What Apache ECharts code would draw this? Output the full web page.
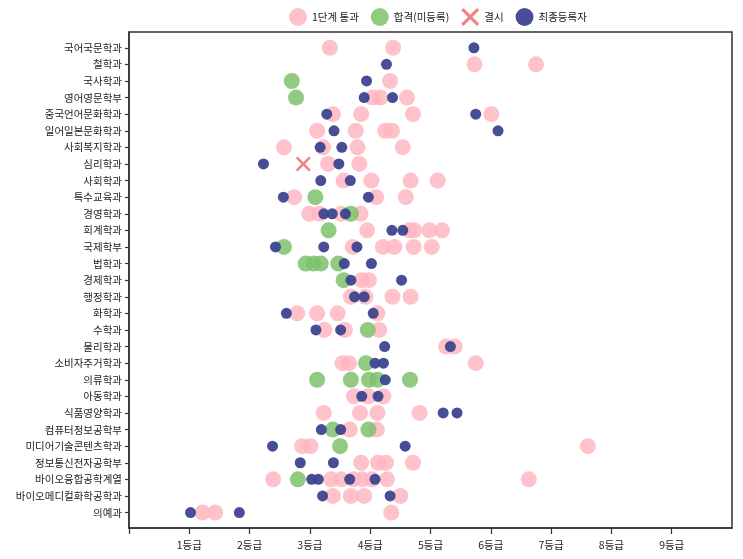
<!DOCTYPE html>
<html>
<head>
<meta charset="utf-8">
<script src="https://cdn.jsdelivr.net/npm/echarts@6/dist/echarts.min.js"></script>
<style>
html,body{margin:0;padding:0;background:#fff;}
#chart{width:743px;height:559px;}
</style>
</head>
<body>
<div id="chart"></div>
<script>
const categories = [
  '국어국문학과','철학과','국사학과','영어영문학부','중국언어문화학과','일어일본문화학과',
  '사회복지학과','심리학과','사회학과','특수교육과','경영학과','회계학과','국제학부','법학과',
  '경제학과','행정학과','화학과','수학과','물리학과','소비자주거학과','의류학과','아동학과',
  '식품영양학과','컴퓨터정보공학부','미디어기술콘텐츠학과','정보통신전자공학부',
  '바이오융합공학계열','바이오메디컬화학공학과','의예과'
];
const gradeTicks = [0,1,2,3,4,5,6,7,8,9];
const gradeLabels = ['', '1등급','2등급','3등급','4등급','5등급','6등급','7등급','8등급','9등급'];

// 1단계 통과
const stage1Pass = [
  [3.33, 4.38],
  [5.73, 6.75],
  [4.33],
  [4.04, 4.17, 4.61],
  [3.38, 3.85, 4.71, 6.01],
  [3.12, 3.76, 4.25, 4.36],
  [2.57, 3.22, 3.79, 4.54],
  [3.30, 3.82],
  [3.56, 4.02, 4.67, 5.12],
  [2.74, 4.10, 4.59],
  [2.99, 3.16, 3.52, 3.84],
  [3.95, 4.65, 4.73, 4.98, 5.19],
  [3.71, 4.21, 4.40, 4.72, 5.02],
  [],
  [3.86, 3.98],
  [3.68, 3.92, 4.37, 4.67],
  [2.79, 3.12, 3.46, 4.12],
  [3.24, 3.58, 4.15],
  [5.26, 5.40],
  [3.54, 3.65, 5.75],
  [],
  [3.73, 3.97, 4.22],
  [3.23, 3.83, 4.12, 4.82],
  [3.66, 4.11],
  [2.87, 3.01, 7.61],
  [3.85, 4.13, 4.26, 4.71],
  [2.39, 3.35, 3.52, 3.72, 3.87, 4.03, 4.28, 6.63],
  [3.38, 3.68, 3.90, 4.50],
  [1.22, 1.43, 4.35]
];
// 합격(미등록)
const admittedNotEnrolled = [
  [], [], [2.70], [2.77], [], [], [], [], [], [3.09], [3.68], [3.31], [2.57],
  [2.93, 3.06, 3.18, 3.47], [3.56], [], [], [3.96], [], [3.93],
  [3.12, 3.68, 3.98, 4.12, 4.66], [], [], [3.38, 3.97], [3.50], [], [2.80], [], []
];
// 결시
const absent = [
  [], [], [], [], [], [], [], [2.89], [], [], [], [], [], [], [], [], [], [], [], [],
  [], [], [], [], [], [], [], [], []
];
// 최종등록자
const finalEnrolled = [
  [5.72],
  [4.27],
  [3.94],
  [3.90, 4.37],
  [3.28, 5.75],
  [3.40, 6.12],
  [3.17, 3.53],
  [2.23, 3.48],
  [3.18, 3.67],
  [2.56, 3.97],
  [3.23, 3.37, 3.59],
  [4.36, 4.54],
  [2.43, 3.23, 3.78],
  [3.57, 4.02],
  [3.68, 4.52],
  [3.74, 3.90],
  [2.61, 4.05],
  [3.10, 3.51],
  [4.24, 5.33],
  [4.08, 4.22],
  [4.25],
  [3.86, 4.13],
  [5.21, 5.44],
  [3.19, 3.51],
  [2.38, 4.58],
  [2.84, 3.39],
  [3.03, 3.14, 3.66, 4.08],
  [3.21, 4.33],
  [1.02, 1.83]
];

function toPoints(rows) {
  const out = [];
  rows.forEach((vals, i) => vals.forEach(v => out.push([v, i])));
  return out;
}

const FONT = '"Noto Sans CJK KR", "Noto Sans", sans-serif';
const crossPath = 'path://M1.2,0 L5,3.8 L8.8,0 L10,1.2 L6.2,5 L10,8.8 L8.8,10 L5,6.2 L1.2,10 L0,8.8 L3.8,5 L0,1.2 Z';
const catIdx = categories.map((c, i) => i);

const chart = echarts.init(document.getElementById('chart'), null, {renderer: 'canvas'});
chart.setOption({
  backgroundColor: '#fff',
  animation: false,
  textStyle: {fontFamily: FONT},
  legend: {
    top: 3,
    left: 284,
    itemWidth: 18,
    itemHeight: 18,
    itemGap: 12,
    textStyle: {fontFamily: FONT, fontSize: 10.5, color: '#222'},
    data: ['1단계 통과', '합격(미등록)', '결시', '최종등록자']
  },
  grid: {
    left: 129, right: 11, top: 32, bottom: 31,
    show: true, borderColor: '#333', borderWidth: 1.5,
    outerBoundsMode: 'none'
  },
  xAxis: {
    type: 'value',
    position: 'bottom',
    min: 0, max: 10, interval: 1,
    axisLine: {show: true, onZero: false, lineStyle: {color: '#333', width: 1.5}},
    axisTick: {show: true, length: 6, customValues: gradeTicks, lineStyle: {color: '#333', width: 1.2}},
    axisLabel: {
      customValues: gradeTicks,
      margin: 12,
      fontSize: 10.5, color: '#222', fontFamily: FONT,
      formatter: v => gradeLabels[Math.round(v)] || ''
    },
    splitLine: {show: false}
  },
  yAxis: {
    type: 'value',
    inverse: true,
    min: -0.95, max: 28.93,
    axisLine: {show: true, onZero: false, lineStyle: {color: '#333', width: 1.5}},
    axisTick: {show: true, length: 4, customValues: catIdx, lineStyle: {color: '#333', width: 1.2}},
    axisLabel: {
      customValues: catIdx,
      margin: 7,
      fontSize: 10.5, color: '#222', fontFamily: FONT,
      formatter: v => categories[Math.round(v)] || ''
    },
    splitLine: {show: false}
  },
  series: [
    {
      name: '1단계 통과', type: 'scatter', symbol: 'circle', symbolSize: 16,
      itemStyle: {color: '#ffb6c1', opacity: 0.85},
      data: toPoints(stage1Pass)
    },
    {
      name: '합격(미등록)', type: 'scatter', symbol: 'circle', symbolSize: 16,
      itemStyle: {color: '#7cc26b', opacity: 0.85},
      data: toPoints(admittedNotEnrolled)
    },
    {
      name: '결시', type: 'scatter', symbol: crossPath, symbolSize: 15,
      itemStyle: {color: '#ee6b6b', opacity: 0.85},
      data: toPoints(absent)
    },
    {
      name: '최종등록자', type: 'scatter', symbol: 'circle', symbolSize: 11,
      itemStyle: {color: '#3d4490', opacity: 0.95},
      data: toPoints(finalEnrolled)
    }
  ]
});
</script>
</body>
</html>
